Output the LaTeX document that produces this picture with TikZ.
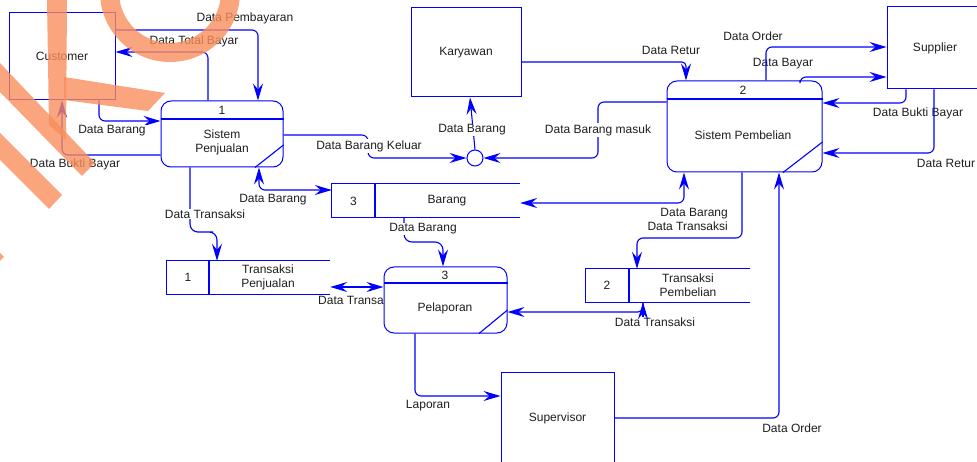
\documentclass[tikz,border=0pt]{standalone}
\usepackage{fontspec}
\setmainfont{Liberation Sans}
\usetikzlibrary{arrows.meta}
\definecolor{dfdblue}{RGB}{0,0,255}
\definecolor{txt}{RGB}{30,30,30}
\definecolor{logo}{RGB}{249,142,92}
\begin{document}
\begin{tikzpicture}[x=1pt,y=-1pt,
  >={Stealth[length=17pt,width=10pt,inset=6pt]},
  every node/.style={font=\fontsize{12}{14}\selectfont, text=txt},
  entity/.style={draw=dfdblue, line width=1pt, inner sep=0pt, align=center},
  process/.style={draw=dfdblue, fill=white, line width=1pt, rounded corners=10pt, inner sep=0pt},
  storearea/.style={inner sep=0pt},
  edge line/.style={draw=dfdblue, line width=1.1pt},
  flow/.style={edge line, rounded corners=6pt, ->},
  bothflow/.style={edge line, rounded corners=6pt, <->},
  lbl/.style={fill=white, inner sep=1pt},
  plain/.style={inner sep=1pt},
]
\useasboundingbox (0,0) rectangle (977,462);
\clip (0,0) rectangle (977,462);

% label partly hidden behind the Pelaporan process
\node[plain, anchor=west] (lTrPel) at (317,300) {Data Transaksi};

% external entities
\node[entity, minimum width=106pt, minimum height=87pt] (cust) at (62,56.5) {Customer};
\node[entity, minimum width=110pt, minimum height=89pt] (kar) at (466,52.5) {Karyawan};
\node[entity, minimum width=96pt, minimum height=82pt] (sup) at (935,48) {Supplier};
\node[entity, minimum width=113pt, minimum height=92pt] (supv) at (557.5,418) {Supervisor};

% processes
\node[process, minimum width=122pt, minimum height=66pt] (p1) at (222,134) {};
\draw[edge line] (p1.west |- 0,119) -- (p1.east |- 0,119);
\draw[edge line] (p1.south -| 255,0) -- (p1.east |- 0,145);
\node (p1n) at (222,110) {1};
\node[align=center] (p1t) at (222,142) {Sistem\\Penjualan};

\node[process, minimum width=155pt, minimum height=91pt] (p2) at (744.5,126.5) {};
\draw[edge line] (p2.west |- 0,99) -- (p2.east |- 0,99);
\draw[edge line] (p2.south -| 783,0) -- (p2.east |- 0,142);
\node (p2n) at (743,90) {2};
\node (p2t) at (743,135) {Sistem Pembelian};

\node[process, minimum width=123pt, minimum height=66pt] (p3) at (445.5,300) {};
\draw[edge line] (p3.west |- 0,283) -- (p3.east |- 0,283);
\draw[edge line] (p3.south -| 479,0) -- (p3.east |- 0,310);
\node (p3n) at (445,275) {3};
\node (p3t) at (445,308) {Pelaporan};

% data stores
\node[storearea, minimum width=188pt, minimum height=33pt] (ds3) at (426,200.5) {};
\draw[edge line] (ds3.north east) -- (ds3.north west) -- (ds3.south west) -- (ds3.south east);
\draw[edge line] (ds3.north -| 375,0) -- (ds3.south -| 375,0);
\node (ds3n) at (353.5,201) {3};
\node (ds3t) at (447,201) {Barang};

\node[storearea, minimum width=163pt, minimum height=33pt] (ds1) at (248.5,277.5) {};
\draw[edge line] (ds1.north east) -- (ds1.north west) -- (ds1.south west) -- (ds1.south east);
\draw[edge line] (ds1.north -| 209,0) -- (ds1.south -| 209,0);
\node (ds1n) at (188,277.5) {1};
\node[align=center] (ds1t) at (268,277) {Transaksi\\Penjualan};

\node[storearea, minimum width=164pt, minimum height=33pt] (ds2) at (668,285.5) {};
\draw[edge line] (ds2.north east) -- (ds2.north west) -- (ds2.south west) -- (ds2.south east);
\draw[edge line] (ds2.north -| 629,0) -- (ds2.south -| 629,0);
\node (ds2n) at (607,285.5) {2};
\node[align=center] (ds2t) at (688,285.5) {Transaksi\\Pembelian};

% junction
\node[draw=dfdblue, circle, minimum size=16pt, inner sep=0pt, line width=1pt, fill=white] (jn) at (475,158) {};

% data flows
\draw[flow] (cust.east |- 0,30) -| (p1.north -| 258,0);
\draw[flow] (p1.north -| 208,0) |- (cust.east |- 0,52);
\draw[flow] (cust.south -| 99,0) |- (p1.west |- 0,121);
\draw[flow] (p1.west |- 0,155) -| (cust.south -| 62,0);
\draw[flow] (p1.east |- 0,135) -| (368,146) |- (jn.west);
\draw[flow] (jn.north) -- (kar.south -| 470,0);
\draw[flow] (p2.west |- 0,102) -| (598,130) |- (jn.east);
\draw[flow, rounded corners=4pt] (kar.east |- 0,62) -| (p2.north -| 686,0);
\draw[flow] (p2.north -| 800,0) |- (sup.west |- 0,77);
\draw[flow] (sup.south -| 906,0) |- (p2.east |- 0,103);
\draw[bothflow] (p1.south -| 259,0) |- (ds3.west |- 0,190);
\draw[bothflow] (ds3.east |- 0,203) -| (p2.south -| 684,0);
\draw[flow] (p2.south -| 742,0) |- (690,238) -| (ds2.north -| 637,0);
\draw[flow] (supv.east |- 0,418) -| (p2.south -| 779,0);
\draw[flow, rounded corners=5pt] (ds2.south -| 643,0) |- (p3.east |- 0,312);
\draw[bothflow] (ds1.east |- 0,287) -- (p3.west |- 0,287);
\draw[flow, rounded corners=8pt] (p1.south -| 190,0) |- (205,232) -| (ds1.north -| 217,0);
\draw[flow, rounded corners=8pt] (ds3.south -| 404,0) |- (420,242) -| (p3.north -| 443,0);
\draw[flow] (p3.south -| 415,0) |- (supv.west |- 0,396);

% flow labels
\node[lbl] (lPemb) at (245,18) {Data Pembayaran};
\node[lbl] (lTot) at (194,41) {Data Total Bayar};
\node[lbl] (lBrgC) at (112,131) {Data Barang};
\node[lbl] (lBuktiC) at (75,164) {Data Bukti Bayar};
\node[lbl] (lKel) at (369,146) {Data Barang Keluar};
\node[lbl] (lBrgK) at (472,130) {Data Barang};
\node[lbl] (lMasuk) at (598,130) {Data Barang masuk};
\node[lbl] (lReturK) at (671,50) {Data Retur};
\node[plain] (lOrder) at (753,36) {Data Order};
\node[plain] (lBayar) at (783,64) {Data Bayar};
\node[plain] (lBuktiS) at (918,113) {Data Bukti Bayar};
\node[lbl] (lReturS) at (946,163) {Data Retur};
\node[lbl] (lBrg1) at (273,200) {Data Barang};
\node[lbl] (lTr1) at (205,214) {Data Transaksi};
\node[lbl] (lBrg3) at (423,229) {Data Barang};
\node[lbl, align=right, anchor=east] (lBrgTr) at (729,219) {Data Barang\\Data Transaksi};
\node[plain] (lTr2) at (655,322) {Data Transaksi};
\node[lbl] (lLap) at (428,406) {Laporan};
\node[lbl] (lOrder2) at (792,428) {Data Order};

% flows drawn over their neighbouring labels
\draw[flow] (p2.north -| 766,0) |- (sup.west |- 0,47);
\draw[flow] (sup.south -| 934,0) |- (p2.east |- 0,153);
\draw[edge line, <-] (ds2.south -| 643,0) -- ++(0,15);

% logo mark
\begin{scope}[fill=logo, fill opacity=0.8]
  \fill[even odd rule] (170,-8) circle[radius=70pt] (170,-8) circle[radius=51pt];
  \fill (47,0) -- (67,0) -- (66,140) -- (49,125) -- cycle;
  \fill (64,77) -- (165,93) -- (148,111) -- (64,100) -- cycle;
  \fill (0,63) -- (95,163) -- (82,176) -- (0,92) -- cycle;
  \fill (0,133) -- (62,195) -- (49,209) -- (0,160) -- cycle;
  \fill (0,253) -- (4,257) -- (0,261) -- cycle;
\end{scope}
\end{tikzpicture}
\end{document}
